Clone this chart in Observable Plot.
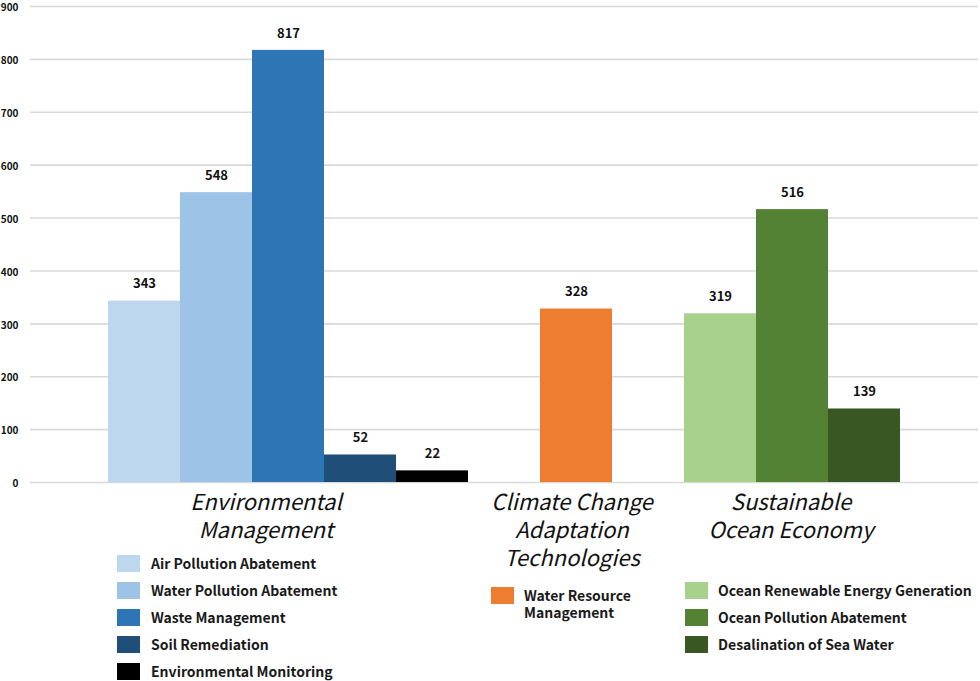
<!DOCTYPE html>
<html>
<head>
<meta charset="utf-8">
<script src="https://cdn.jsdelivr.net/npm/d3@7"></script>
<script src="https://cdn.jsdelivr.net/npm/@observablehq/plot@0.6"></script>
<style>
  body { margin: 0; background: #fff; font-family: "Noto Sans CJK KR", "Noto Sans", sans-serif; }
  #wrap { position: relative; width: 980px; height: 681px; overflow: hidden; }
  #chart svg { display: block; }
  .cat { position: absolute; font-style: italic; font-size: 22px; line-height: 28px; text-align: center; color: #111; white-space: nowrap; transform: translateX(-50%); }
  .leg { position: absolute; font-size: 14px; font-weight: bold; color: #1a1a1a; line-height: 17px; white-space: nowrap; }
  .sw { position: absolute; width: 23px; height: 17px; }
</style>
</head>
<body>
<div id="wrap">
  <div id="chart"></div>
</div>
<script>
// ---- data ----
const categories = ["Environmental Management", "Climate Change Adaptation Technologies", "Sustainable Ocean Economy"];
const categoryLines = [["Environmental", "Management"], ["Climate Change", "Adaptation", "Technologies"], ["Sustainable", "Ocean Economy"]];
const subcategories = [
  "Air Pollution Abatement", "Water Pollution Abatement", "Waste Management", "Soil Remediation", "Environmental Monitoring",
  "Water Resource Management",
  "Ocean Renewable Energy Generation", "Ocean Pollution Abatement", "Desalination of Sea Water"
];
const groupIndex = [0, 0, 0, 0, 0, 1, 2, 2, 2];
const values = [343, 548, 817, 52, 22, 328, 319, 516, 139];
const colors = ["#BDD7EE", "#9DC3E6", "#2E75B6", "#1F4E79", "#000000", "#ED7D31", "#A9D18E", "#548235", "#385723"];
const yTicks = [0, 100, 200, 300, 400, 500, 600, 700, 800, 900];

// slot positions: one empty slot before each group and after the last
const slots = [];
let s = 0, prev = -1;
groupIndex.forEach((g) => { if (g !== prev) { s += 1; prev = g; } slots.push(s); s += 1; });
const nSlots = s + 1;

const data = subcategories.map((name, i) => ({ name, value: values[i], slot: slots[i], group: groupIndex[i] }));

const plot = Plot.plot({
  width: 980,
  height: 490,
  marginLeft: 30,
  marginRight: 2,
  marginTop: 6,
  marginBottom: 8,
  style: { fontFamily: "'Noto Sans CJK KR', 'Noto Sans', sans-serif", background: "#fff", overflow: "visible" },
  x: { type: "linear", domain: [-1 / 12, nSlots + 1 / 12], axis: null },
  y: { domain: [0, 900], ticks: yTicks, tickSize: 0, tickPadding: 12, label: null, grid: false },
  color: { type: "ordinal", domain: subcategories, range: colors },
  marks: [
    Plot.ruleY(yTicks, { stroke: "#d9d9d9", strokeWidth: 1.6 }),
    Plot.rectY(data, { x1: "slot", x2: (d) => d.slot + 1, y: "value", fill: "name" }),
    Plot.text(data, { x: (d) => d.slot + 0.5, y: "value", text: (d) => String(d.value), dy: -17, fontSize: 13, fontWeight: "bold", fill: "#111" }),
    Plot.axisY({ ticks: yTicks, tickSize: 0, tickPadding: 12, dy: 1.5, fontSize: 10, fontWeight: "bold", label: null, fill: "#111" })
  ]
});
document.getElementById("chart").appendChild(plot);

const wrap = document.getElementById("wrap");

// category labels
const catCenters = [266, 572, 791];
categoryLines.forEach((lines, g) => {
  const el = document.createElement("div");
  el.className = "cat";
  el.style.left = catCenters[g] + "px";
  el.style.top = "486px";
  el.innerHTML = lines.join("<br>");
  el.title = categories[g];
  wrap.appendChild(el);
});

// legends
const legendCols = [
  { sw: 117, tx: 151, top: 555 },
  { sw: 491, tx: 524, top: 587 },
  { sw: 685, tx: 718, top: 582 }
];
const rowCount = [0, 0, 0];
subcategories.forEach((name, i) => {
  const g = groupIndex[i];
  const col = legendCols[g];
  const top = col.top + rowCount[g] * 27;
  rowCount[g]++;
  const sw = document.createElement("div");
  sw.className = "sw";
  sw.style.left = col.sw + "px";
  sw.style.top = top + "px";
  sw.style.background = colors[i];
  wrap.appendChild(sw);
  const t = document.createElement("div");
  t.className = "leg";
  t.style.left = col.tx + "px";
  t.style.top = top + "px";
  if (name === "Water Resource Management") t.innerHTML = "Water Resource<br>Management";
  else t.textContent = name;
  wrap.appendChild(t);
});
</script>
</body>
</html>
